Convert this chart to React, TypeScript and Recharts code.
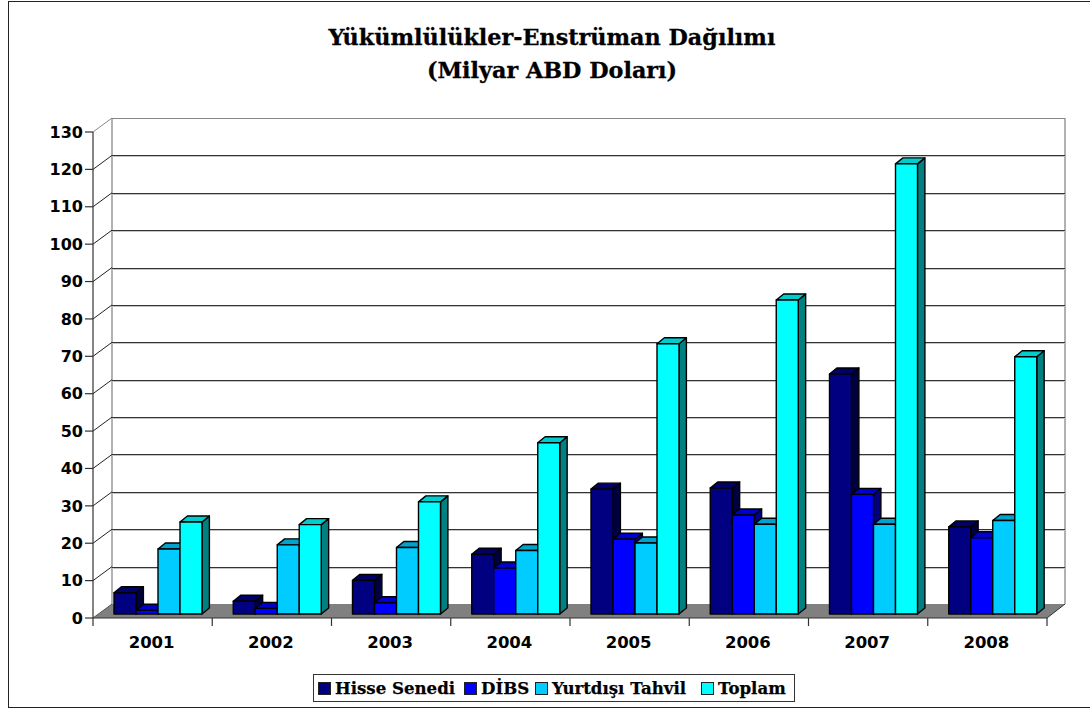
import React from 'react';
import { BarChart, Bar, XAxis, YAxis, CartesianGrid, Legend } from 'recharts';

const years = ['2001', '2002', '2003', '2004', '2005', '2006', '2007', '2008'];
const hisse = [5.7, 3.4, 9, 16, 33.4, 33.7, 64.2, 23.3];
const dibs = [1, 1.5, 3, 12.3, 20, 26.5, 32, 20.4];
const yurtdisi = [17.4, 18.5, 17.8, 17, 19, 24, 24, 25];
const toplam = [24.6, 23.9, 30, 45.8, 72.3, 84, 120.4, 68.8];
const yTicks = [0, 10, 20, 30, 40, 50, 60, 70, 80, 90, 100, 110, 120, 130];
const titleLines = ['Yükümlülükler-Enstrüman Dağılımı', '(Milyar ABD Doları)'];

const data = years.map((y, i) => ({
  year: y,
  'Hisse Senedi': hisse[i],
  'DİBS': dibs[i],
  'Yurtdışı Tahvil': yurtdisi[i],
  'Toplam': toplam[i],
}));

const series = [
  { key: 'Hisse Senedi', front: '#000080', top: '#000066', side: '#000040', itemWidth: 146 },
  { key: 'DİBS', front: '#0000FF', top: '#0000CC', side: '#000080', itemWidth: 71 },
  { key: 'Yurtdışı Tahvil', front: '#00CCFF', top: '#00A3CC', side: '#006680', itemWidth: 166 },
  { key: 'Toplam', front: '#00FFFF', top: '#00CCCC', side: '#008080', itemWidth: 90 },
];

const LEFT = 93;
const RIGHT = 1047;
const TOP = 132;
const BOTTOM = 618;
const WALL_DX = 19;
const WALL_DY = 14;
const BAR_DX = 5;
const BAR_DY = 4;
const DEPTH_DX = 7.4;
const DEPTH_DY = 6;
const FONT = '"DejaVu Sans", sans-serif';
const SERIF = '"DejaVu Serif", serif';

const bar3d = (c: { front: string; top: string; side: string }) => (p: any) => {
  const x = p.x + BAR_DX;
  const y = p.y - BAR_DY;
  const w = p.width;
  const h = p.height;
  const st = { stroke: '#000', strokeWidth: 1.4, strokeLinejoin: 'round' as const };
  return (
    <g>
      <polygon points={`${x + w},${y} ${x + w + DEPTH_DX},${y - DEPTH_DY} ${x + w + DEPTH_DX},${y + h - DEPTH_DY} ${x + w},${y + h}`} fill={c.side} {...st} />
      <polygon points={`${x},${y} ${x + DEPTH_DX},${y - DEPTH_DY} ${x + w + DEPTH_DX},${y - DEPTH_DY} ${x + w},${y}`} fill={c.top} {...st} />
      <rect x={x} y={y} width={w} height={h} fill={c.front} {...st} />
    </g>
  );
};

const wallLine = (p: any) => {
  const y = p.y1;
  const isTop = Math.abs(y - TOP) < 1;
  const isFloor = Math.abs(y - BOTTOM) < 1;
  const by = y - WALL_DY;
  const snap = Math.round(by) + 0.5;
  const wallL = LEFT + WALL_DX;
  const wallR = RIGHT + WALL_DX - 1;
  if (isFloor) {
    return (
      <g key="floor">
        <line x1={wallL} y1={TOP - WALL_DY} x2={wallL} y2={by} stroke="#999" strokeWidth={1.5} />
        <line x1={wallR} y1={TOP - WALL_DY} x2={wallR} y2={by} stroke="#999" strokeWidth={1.5} />
        <polygon points={`${LEFT},${y} ${wallL},${by} ${wallR},${by} ${RIGHT},${y}`} fill="#808080" />
        <line x1={RIGHT} y1={y} x2={wallR} y2={by} stroke="#333" strokeWidth={1} />
        <line x1={LEFT} y1={y} x2={wallL} y2={by} stroke="#555" strokeWidth={1} />
      </g>
    );
  }
  return (
    <g key={`wall-${y}`}>
      <line x1={LEFT} y1={y} x2={wallL} y2={by} stroke={isTop ? '#888' : '#222'} strokeWidth={1} />
      {!isTop && <line x1={wallL} y1={snap + 1} x2={wallR} y2={snap + 1} stroke="#c4c4c4" strokeWidth={1} />}
      <line x1={wallL} y1={snap} x2={wallR} y2={snap} stroke={isTop ? '#888' : '#333'} strokeWidth={1} />
    </g>
  );
};

const xTick = (p: any) => {
  const band = (RIGHT - LEFT) / years.length;
  const left = p.x - band / 2;
  const isLast = p.index === years.length - 1;
  return (
    <g>
      <line x1={left} y1={BOTTOM} x2={left} y2={BOTTOM + 8} stroke="#333" strokeWidth={1.2} />
      {isLast && <line x1={left + band} y1={BOTTOM} x2={left + band} y2={BOTTOM + 8} stroke="#333" strokeWidth={1.2} />}
      <text x={p.x - 1} y={BOTTOM + 30} textAnchor="middle" fontFamily={FONT} fontWeight="bold" fontSize={16.5} fill="#000">
        {p.payload.value}
      </text>
    </g>
  );
};

const legendContent = () => (
  <div
    style={{
      boxSizing: 'border-box',
      width: 482,
      height: 28,
      border: '1px solid #333',
      background: '#fff',
      display: 'flex',
      alignItems: 'center',
      paddingLeft: 4,
      fontFamily: SERIF,
      fontWeight: 'bold',
      fontSize: 16.6,
      color: '#000',
      whiteSpace: 'nowrap',
      WebkitTextStroke: '0.25px #000',
    }}
  >
    {series.map((s) => (
      <span key={s.key} style={{ display: 'inline-flex', alignItems: 'center', width: s.itemWidth, flex: 'none' }}>
        <span style={{ boxSizing: 'border-box', width: 13, height: 13, background: s.front, border: '1px solid #222', marginRight: 4, flex: 'none' }} />
        {s.key}
      </span>
    ))}
  </div>
);

export default function App() {
  return (
    <div style={{ position: 'absolute', left: 0, top: 0, width: 1090, height: 708, background: '#fff', overflow: 'hidden' }}>
      <div style={{ position: 'absolute', left: 8, top: 1, width: 1090, height: 707, boxSizing: 'border-box', border: '1px solid #222' }} />
      <div
        style={{
          position: 'absolute',
          left: 15,
          width: 1074,
          top: 21,
          textAlign: 'center',
          fontFamily: SERIF,
          fontWeight: 'bold',
          fontSize: 22.3,
          lineHeight: '33px',
          color: '#000',
          WebkitTextStroke: '0.3px #000',
        }}
      >
        {titleLines.map((t) => (
          <div key={t}>{t}</div>
        ))}
      </div>
      <BarChart
        width={1090}
        height={708}
        data={data}
        margin={{ top: TOP, right: 1090 - RIGHT, bottom: 32, left: LEFT - 60 }}
        barCategoryGap={16}
        barGap={0}
        style={{ position: 'absolute', left: 0, top: 0 }}
      >
        <CartesianGrid vertical={false} horizontal={wallLine} />
        <XAxis dataKey="year" height={30} axisLine={{ stroke: '#333', strokeWidth: 1.2 }} tickLine={false} tick={xTick} interval={0} />
        <YAxis
          width={60}
          domain={[0, 130]}
          ticks={yTicks}
          interval={0}
          axisLine={{ stroke: '#333', strokeWidth: 1.2 }}
          tickLine={{ stroke: '#333', strokeWidth: 1.2 }}
          tickSize={8}
          tick={{ fontFamily: FONT, fontWeight: 'bold', fontSize: 16, fill: '#000' }}
        />
        <Legend content={legendContent} wrapperStyle={{ position: 'absolute', left: 313, top: 674, width: 482, height: 28 }} />
        {series.map((s) => (
          <Bar key={s.key} dataKey={s.key} fill={s.front} isAnimationActive={false} shape={bar3d(s)} />
        ))}
      </BarChart>
    </div>
  );
}
